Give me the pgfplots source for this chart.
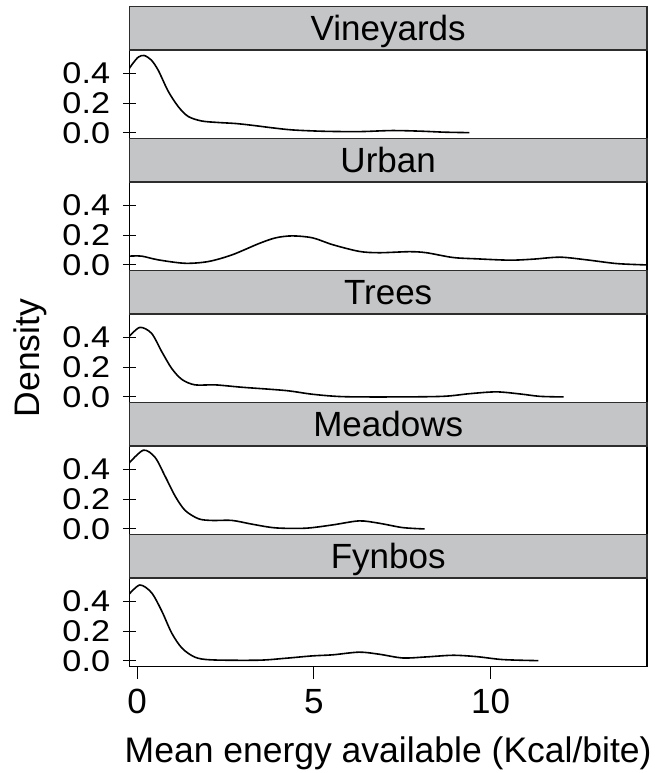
\documentclass[border=0pt]{standalone}
\usepackage{pgfplots}
\pgfplotsset{compat=1.18}
\usepackage{fontspec}
\setmainfont{Liberation Sans}
\definecolor{stripgray}{RGB}{196,197,199}
\definecolor{stripline}{RGB}{45,45,45}
\pgfplotsset{
  every axis title shift=0pt,
  panel/.style={
    scale only axis, width=517.7bp, height=88.3bp,
    anchor=south west,
    xmin=-0.22, xmax=14.42, ymin=-0.036, ymax=0.557,
    ytick={0,0.2,0.4}, yticklabels={0.0,0.2,0.4},
    ytick pos=left, xtick=\empty,
    tick align=center, major tick length=13bp,
    axis line style={line width=1.1bp},
    every tick/.style={black, line width=1.1bp},
    yticklabel style={font=\fontsize{30bp}{32bp}\selectfont, xscale=1.14, inner sep=0pt, anchor=east, xshift=-11bp},
    title style={at={(axis description cs:0.5,1)}, anchor=south, yshift=0pt, fill=stripgray,
      draw=stripline, line width=1.3bp, minimum width=517.7bp, minimum height=43.7bp,
      inner sep=0pt, outer sep=0pt, text height=25bp, text depth=0pt,
      font=\fontsize{35bp}{40bp}\selectfont},
  },
  curve/.style={black, line width=1.6bp, smooth, tension=0.5, mark=none},
}
\begin{document}
\begin{tikzpicture}
\useasboundingbox (0,0) rectangle (655bp,773bp);
% Vineyards
\begin{axis}[panel, at={(129.3bp,634.7bp)}, title={Vineyards}]
\addplot[curve] coordinates {(-0.23,0.43) (-0.11,0.47) (0.04,0.51) (0.2,0.52) (0.4,0.49) (0.6,0.42) (0.88,0.28) (1.17,0.175) (1.45,0.11) (1.83,0.08) (2.3,0.07) (2.8,0.063) (3.3,0.05) (3.8,0.035) (4.4,0.02) (5.3,0.011) (6.3,0.009) (7.2,0.016) (8.0,0.012) (8.7,0.005) (9.4,0.002)};
\end{axis}
% Urban
\begin{axis}[panel, at={(129.3bp,502.7bp)}, title={Urban}]
\addplot[curve] coordinates {(-0.23,0.059) (0.13,0.059) (0.60,0.034) (1.36,0.011) (2.02,0.023) (2.69,0.068) (3.44,0.143) (3.92,0.182) (4.39,0.195) (4.96,0.182) (5.53,0.136) (6.28,0.091) (6.85,0.082) (7.70,0.089) (8.18,0.082) (8.93,0.05) (9.60,0.041) (10.54,0.032) (11.21,0.039) (11.96,0.052) (12.72,0.034) (13.57,0.009) (14.42,0.0)};
\end{axis}
% Trees
\begin{axis}[panel, at={(129.3bp,370.7bp)}, title={Trees},
  ylabel={Density},
  ylabel style={at={(axis description cs:-0.1725,0.5)}, anchor=base, font=\fontsize{35.5bp}{40bp}\selectfont}]
\addplot[curve] coordinates {(-0.23,0.405) (0.08,0.467) (0.41,0.427) (0.70,0.303) (0.98,0.191) (1.27,0.117) (1.64,0.081) (2.21,0.081) (2.97,0.065) (4.20,0.043) (4.96,0.018) (5.81,0.002) (7.23,0.0) (8.65,0.004) (9.41,0.022) (10.16,0.034) (10.83,0.02) (11.39,0.004) (12.06,0.0)};
\end{axis}
% Meadows
\begin{axis}[panel, at={(129.3bp,238.7bp)}, title={Meadows}]
\addplot[curve] coordinates {(-0.23,0.441) (0.18,0.529) (0.51,0.48) (0.79,0.355) (1.08,0.219) (1.36,0.124) (1.74,0.068) (2.12,0.057) (2.69,0.057) (3.25,0.032) (3.92,0.007) (4.77,0.005) (5.53,0.027) (6.28,0.054) (6.85,0.038) (7.51,0.009) (8.13,0.0)};
\end{axis}
% Fynbos
\begin{axis}[panel, at={(129.3bp,106.7bp)}, title={Fynbos},
  xtick={0,5,10}, xticklabels={0,5,10}, xtick pos=lower,
  every major x tick/.append style={yshift=-6bp},
  xticklabel style={font=\fontsize{35bp}{40bp}\selectfont, inner sep=0pt, anchor=north, yshift=-16bp},
  xlabel={Mean energy available (Kcal/bite)},
  xlabel style={at={(axis description cs:0.5,-1.095)}, anchor=base, font=\fontsize{35.5bp}{40bp}\selectfont}]
\addplot[curve] coordinates {(-0.23,0.447) (0.08,0.51) (0.41,0.458) (0.70,0.334) (0.98,0.187) (1.27,0.086) (1.64,0.025) (2.12,0.007) (3.44,0.005) (4.20,0.018) (4.96,0.034) (5.53,0.041) (6.28,0.059) (6.85,0.045) (7.51,0.02) (8.18,0.027) (8.93,0.038) (9.60,0.029) (10.35,0.009) (11.35,0.002)};
\end{axis}
\end{tikzpicture}
\end{document}
